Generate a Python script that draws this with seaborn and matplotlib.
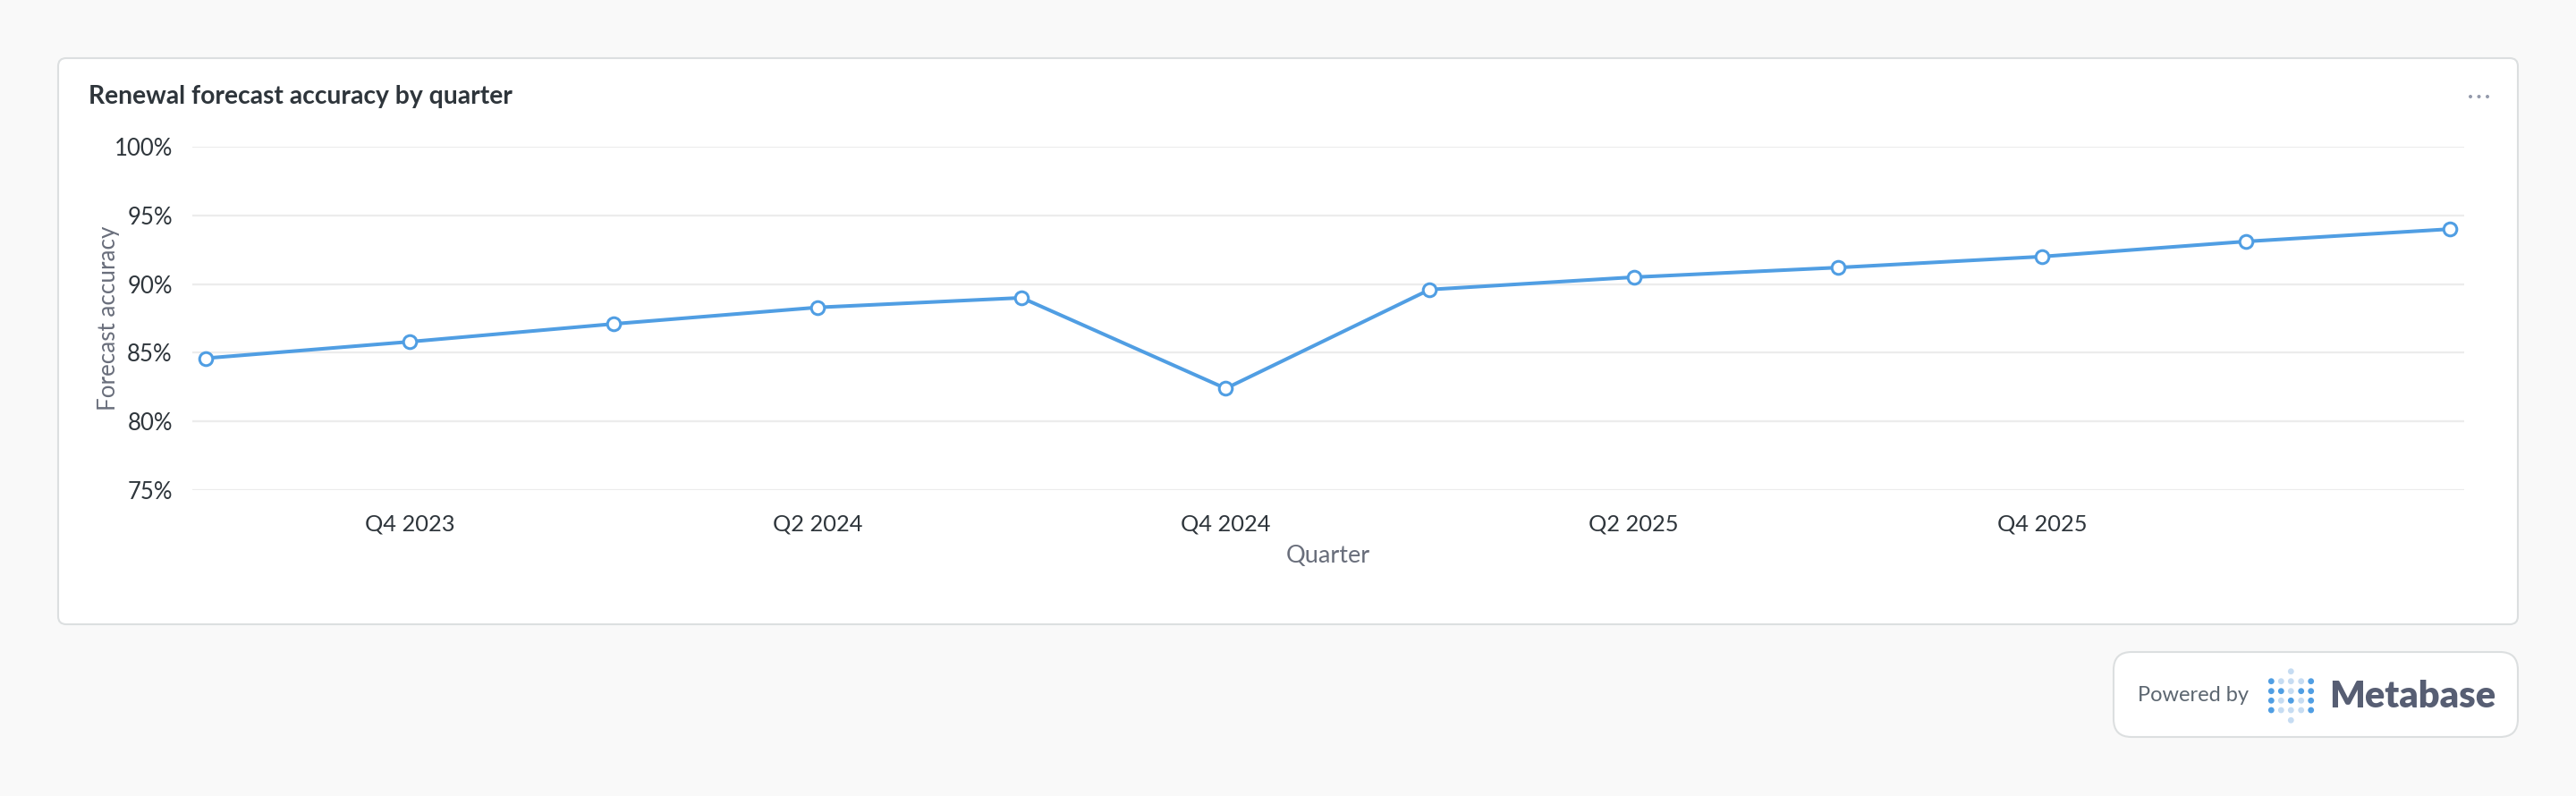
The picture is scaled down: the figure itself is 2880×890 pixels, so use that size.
import pandas as pd
import matplotlib.pyplot as plt
import seaborn as sns
from matplotlib.patches import FancyBboxPatch, Circle
from matplotlib.ticker import FuncFormatter

quarters = ["Q3 2023", "Q4 2023", "Q1 2024", "Q2 2024", "Q3 2024", "Q4 2024",
            "Q1 2025", "Q2 2025", "Q3 2025", "Q4 2025", "Q1 2026", "Q2 2026"]
accuracy = [84.6, 85.8, 87.1, 88.3, 89.0, 82.4, 89.6, 90.5, 91.2, 92.0, 93.1, 94.0]
shown_ticks = ["Q4 2023", "Q2 2024", "Q4 2024", "Q2 2025", "Q4 2025"]
y_ticks = [75, 80, 85, 90, 95, 100]

BLUE = "#509ee3"
DARK = "#2e353b"
GRAY = "#696e7b"

W, H = 2880, 890


def px(x, y):
    # pixel coords (top-left origin) -> inches for dpi_scale_trans
    return x / 100, (H - y) / 100


sns.set_theme(style="white")
plt.rcParams["font.family"] = ["Lato", "DejaVu Sans"]

fig = plt.figure(figsize=(W / 100, H / 100), dpi=100)
fig.patch.set_facecolor("#f9f9f9")

# card
x0, y0 = px(65, 698)
card = FancyBboxPatch((x0, y0), (2815 - 65) / 100, (698 - 65) / 100,
                      boxstyle="round,pad=0,rounding_size=0.09",
                      transform=fig.dpi_scale_trans, facecolor="white",
                      edgecolor="#dcdfe0", linewidth=1.5, zorder=-5)
fig.patches.append(card)

ax = fig.add_axes([215 / W, 342 / H, (2755 - 215) / W, (726 - 342) / H])
ax.set_facecolor("none")

df = pd.DataFrame({"quarter": quarters, "accuracy": accuracy})
df["pos"] = range(len(df))
sns.lineplot(data=df, x="pos", y="accuracy", ax=ax, color=BLUE, linewidth=2.9,
             marker="o", markersize=10.5, markerfacecolor="white",
             markeredgecolor=BLUE, markeredgewidth=2.2, zorder=3)

ax.set_ylim(75, 100)
ax.set_xlim(-0.065, len(quarters) - 1 + 0.07)
ax.set_yticks(y_ticks)
ax.yaxis.set_major_formatter(FuncFormatter(lambda v, _: f"{v:.0f}%"))
ax.set_xticks([quarters.index(q) for q in shown_ticks])
ax.set_xticklabels(shown_ticks)
ax.grid(axis="y", color="#ececec", linewidth=1.6)
ax.grid(axis="x", visible=False)
for s in ax.spines.values():
    s.set_visible(False)
ax.tick_params(axis="y", length=0, pad=16, labelsize=18.5, labelcolor=DARK)
ax.tick_params(axis="x", length=0, pad=19, labelsize=18.3, labelcolor=DARK)

ax.set_xlabel("Quarter", fontsize=19.5, color=GRAY)
ax.set_ylabel("Forecast accuracy", fontsize=18.7, color=GRAY)
ax.xaxis.set_label_coords(0.5, -0.16)
ax.yaxis.set_label_coords(-0.032, 0.5)

fig.text(99 / W, (H - 108) / H, "Renewal forecast accuracy by quarter",
         fontsize=20.3, fontweight="bold", color=DARK, va="center", ha="left")

# menu dots
for cx in (2762, 2771.5, 2781):
    cxi, cyi = px(cx, 108)
    fig.patches.append(Circle((cxi, cyi), 0.02, transform=fig.dpi_scale_trans,
                              facecolor="#949aab", edgecolor="none"))

# powered by badge
bx, by = px(2363, 824)
badge = FancyBboxPatch((bx, by), (2815 - 2363) / 100, (824 - 729) / 100,
                       boxstyle="round,pad=0,rounding_size=0.2",
                       transform=fig.dpi_scale_trans, facecolor="white",
                       edgecolor="#dcdfe0", linewidth=1.5, zorder=-5)
fig.patches.append(badge)
fig.text(2390 / W, (H - 778) / H, "Powered by", fontsize=17, color="#5c6670",
         va="center", ha="left")
fig.text(2604 / W, (H - 779) / H, "Metabase", fontsize=30, fontweight="heavy",
         color="#575e73", va="center", ha="left")

pattern = ["DLLLD", "DDLDD", "DLDLD", "DLLLD"]
cols = [2539.3, 2550.3, 2561.3, 2572.7, 2583.7]
rows = [761.7, 772.7, 783.3, 794]
for r, row in zip(rows, pattern):
    for c, k in zip(cols, row):
        cxi, cyi = px(c, r)
        fig.patches.append(Circle((cxi, cyi), 0.034, transform=fig.dpi_scale_trans,
                                  facecolor=BLUE if k == "D" else "#c6dcf2",
                                  edgecolor="none"))
for r in (750.7, 805.3):
    cxi, cyi = px(cols[2], r)
    fig.patches.append(Circle((cxi, cyi), 0.034, transform=fig.dpi_scale_trans,
                              facecolor="#c6dcf2", edgecolor="none"))

fig.savefig("out.png", dpi=100, facecolor=fig.get_facecolor())
